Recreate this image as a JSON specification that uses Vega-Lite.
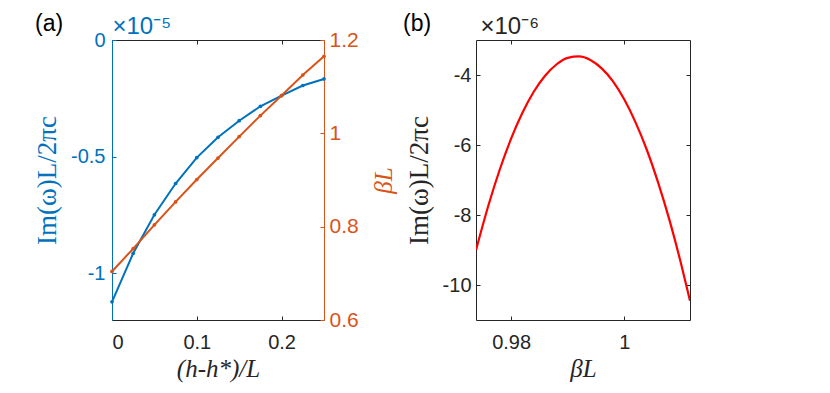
{
  "$schema": "https://vega.github.io/schema/vega-lite/v6.json",
  "background": "white",
  "padding": {"left": 33, "top": 12, "right": 5, "bottom": 5},
  "spacing": 152,
  "bounds": "flush",
  "datasets": {
    "a": [
      {"x": 0, "im": -1.122, "beta": 0.704},
      {"x": 0.025, "im": -0.914, "beta": 0.753},
      {"x": 0.05, "im": -0.749, "beta": 0.804},
      {"x": 0.075, "im": -0.615, "beta": 0.853},
      {"x": 0.1, "im": -0.504, "beta": 0.901},
      {"x": 0.125, "im": -0.417, "beta": 0.947},
      {"x": 0.15, "im": -0.346, "beta": 0.993},
      {"x": 0.175, "im": -0.284, "beta": 1.038},
      {"x": 0.2, "im": -0.238, "beta": 1.081},
      {"x": 0.225, "im": -0.195, "beta": 1.125},
      {"x": 0.25, "im": -0.167, "beta": 1.165}
    ],
    "b": [
      {"bL": 0.9738, "im": -9.0},
      {"bL": 0.976, "im": -7.72},
      {"bL": 0.978, "im": -6.7},
      {"bL": 0.98, "im": -5.82},
      {"bL": 0.982, "im": -5.08},
      {"bL": 0.984, "im": -4.48},
      {"bL": 0.986, "im": -4.02},
      {"bL": 0.988, "im": -3.7},
      {"bL": 0.99, "im": -3.51},
      {"bL": 0.992, "im": -3.47},
      {"bL": 0.994, "im": -3.57},
      {"bL": 0.996, "im": -3.81},
      {"bL": 0.998, "im": -4.18},
      {"bL": 1.0, "im": -4.7},
      {"bL": 1.002, "im": -5.36},
      {"bL": 1.004, "im": -6.15},
      {"bL": 1.006, "im": -7.09},
      {"bL": 1.008, "im": -8.16},
      {"bL": 1.01, "im": -9.38},
      {"bL": 1.0116, "im": -10.45}
    ]
  },
  "config": {
    "view": {"stroke": null},
    "font": "Liberation Sans",
    "axis": {
      "grid": false,
      "labelFont": "Liberation Sans",
      "labelFontSize": 20,
      "labelExpr": "toString(datum.value)",
      "titleFont": "Liberation Serif",
      "titleFontSize": 27,
      "titleFontWeight": "normal",
      "tickSize": -4,
      "tickWidth": 1,
      "domainWidth": 1,
      "domainColor": "#262626",
      "tickColor": "#262626",
      "labelColor": "#262626",
      "titleColor": "#262626"
    }
  },
  "hconcat": [
    {
      "width": 212,
      "height": 280,
      "title": {"text": "(a)", "anchor": "start", "frame": "group", "dx": -77, "dy": 25, "fontSize": 23, "fontWeight": "normal", "font": "Liberation Sans", "color": "#000000"},
      "data": {"name": "a"},
      "resolve": {"scale": {"y": "independent"}, "axis": {"x": "independent"}},
      "layer": [
        {
          "mark": {"type": "line", "color": "#0072BD", "strokeWidth": 2, "point": {"filled": true, "size": 14, "color": "#0072BD"}},
          "encoding": {
            "x": {"field": "x", "type": "quantitative", "scale": {"domain": [0, 0.25], "nice": false},
              "axis": {"orient": "bottom", "values": [0, 0.1, 0.2], "title": "(h-h*)/L", "titleFontStyle": "italic", "titleFontSize": 25, "labelPadding": 16, "titlePadding": 4}},
            "y": {"field": "im", "type": "quantitative", "scale": {"domain": [-1.2, 0], "nice": false, "zero": false},
              "axis": {"orient": "left", "values": [0, -0.5, -1], "title": "Im(ω)L/2πc",
                "domainColor": "#0072BD", "tickColor": "#0072BD", "labelColor": "#0072BD", "titleColor": "#0072BD", "labelPadding": 11, "titlePadding": 9}}
          }
        },
        {
          "mark": {"type": "line", "color": "#D95319", "strokeWidth": 2, "point": {"filled": true, "size": 14, "color": "#D95319"}},
          "encoding": {
            "x": {"field": "x", "type": "quantitative",
              "axis": {"orient": "top", "values": [0, 0.1, 0.2], "labels": false, "title": "×10⁻⁵", "titleFont": "Liberation Sans", "titleFontSize": 24,
                "titleColor": "#0072BD", "titleAnchor": "start", "titleAlign": "left", "titleBaseline": "alphabetic", "titlePadding": 6}},
            "y": {"field": "beta", "type": "quantitative", "scale": {"domain": [0.6, 1.2], "nice": false, "zero": false},
              "axis": {"orient": "right", "values": [0.6, 0.8, 1, 1.2], "title": "βL", "titleFontStyle": "italic", "titleFontSize": 25, "titleAngle": 270, "titleBaseline": "top",
                "labelFontSize": 21, "domainColor": "#D95319", "tickColor": "#D95319", "labelColor": "#D95319", "titleColor": "#D95319", "labelPadding": 9, "titlePadding": 13}}
          }
        }
      ]
    },
    {
      "width": 214,
      "height": 280,
      "title": {"text": "(b)", "anchor": "start", "frame": "group", "dx": -73, "dy": 25, "fontSize": 23, "fontWeight": "normal", "font": "Liberation Sans", "color": "#000000"},
      "data": {"name": "b"},
      "resolve": {"axis": {"x": "independent", "y": "independent"}},
      "layer": [
        {
          "mark": {"type": "line", "color": "#FF0000", "strokeWidth": 2.2, "interpolate": "monotone", "clip": true},
          "encoding": {
            "x": {"field": "bL", "type": "quantitative", "scale": {"domain": [0.9738, 1.0116], "nice": false, "zero": false},
              "axis": {"orient": "bottom", "values": [0.98, 1], "title": "βL", "titleFontStyle": "italic", "titleFontSize": 25, "labelPadding": 16, "titlePadding": 4}},
            "y": {"field": "im", "type": "quantitative", "scale": {"domain": [-11, -3], "nice": false, "zero": false},
              "axis": {"orient": "left", "values": [-4, -6, -8, -10], "title": "Im(ω)L/2πc", "labelPadding": 9, "titlePadding": 9}}
          }
        },
        {
          "mark": {"type": "line", "opacity": 0},
          "encoding": {
            "x": {"field": "bL", "type": "quantitative",
              "axis": {"orient": "top", "values": [0.98, 1], "labels": false, "title": "×10⁻⁶", "titleFont": "Liberation Sans", "titleFontSize": 24,
                "titleAnchor": "start", "titleAlign": "left", "titleBaseline": "alphabetic", "titlePadding": 6, "titleX": 4}},
            "y": {"field": "im", "type": "quantitative",
              "axis": {"orient": "right", "values": [-4, -6, -8, -10], "labels": false, "title": null}}
          }
        }
      ]
    }
  ]
}
